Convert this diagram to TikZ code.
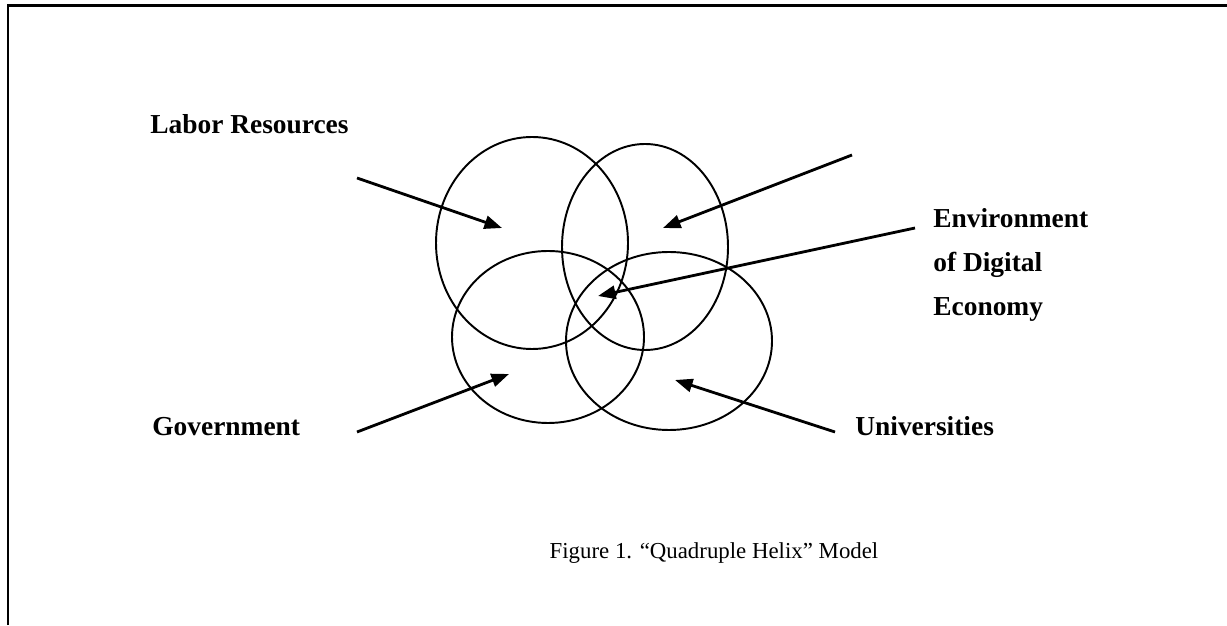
\documentclass[tikz,border=0pt]{standalone}
\usepackage{fontspec}
\setmainfont{Liberation Serif}
\usetikzlibrary{arrows.meta, shapes.geometric, positioning}

\begin{document}
\begin{tikzpicture}[
	hx/.style={ellipse, draw, line width=1.1pt, inner sep=0pt},
	lbl/.style={font=\fontsize{15.6}{25}\selectfont\bfseries, inner sep=0pt, align=left},
	fl/.style={-{Triangle[length=10pt, width=7.5pt]}, line width=1.6pt}]
	\useasboundingbox (0,0) rectangle (24.54,12.5);

	% --- marco ---
	\draw[line width=1.7pt] (0.16,0) -- (0.16,12.38) -- (24.54,12.38);

	% --- hélices ---
	\node[hx, minimum width=3.84cm, minimum height=4.24cm] (labor) at (10.64,7.64) {};
	\node[hx, minimum width=3.32cm, minimum height=4.12cm] (top) at (12.90,7.56) {};
	\node[hx, minimum width=3.84cm, minimum height=3.44cm] (gov) at (10.96,5.76) {};
	\node[hx, minimum width=4.12cm, minimum height=3.56cm] (univ) at (13.38,5.68) {};

	% --- textos ---
	\node[lbl, anchor=base west] (tlabor) at (3.00,9.82) {Labor Resources};
	\node[lbl, anchor=base west] (tgov) at (3.04,3.78) {Government};
	\node[lbl, anchor=base west] (tuniv) at (17.10,3.78) {Universities};
	\node[lbl, anchor=north west] (tenv) at (18.66,8.34) {Environment\\of Digital\\Economy};
	\node[font=\fontsize{13}{16}\selectfont, anchor=base] (cap) at (14.28,1.32)
		{Figure 1. “Quadruple Helix” Model};

	% --- flechas ---
	\coordinate (a1) at (7.14,8.94);  \coordinate (b1) at (10.04,7.94);
	\coordinate (a2) at (17.04,9.40); \coordinate (b2) at (13.26,7.94);
	\coordinate (a3) at (18.30,7.94); \coordinate (b3) at (11.96,6.58);
	\coordinate (a4) at (7.14,3.86);  \coordinate (b4) at (10.18,5.02);
	\coordinate (a5) at (16.70,3.86); \coordinate (b5) at (13.50,4.90);
	\foreach \i in {1,...,5} \draw[fl] (a\i) -- (b\i);
\end{tikzpicture}
\end{document}
